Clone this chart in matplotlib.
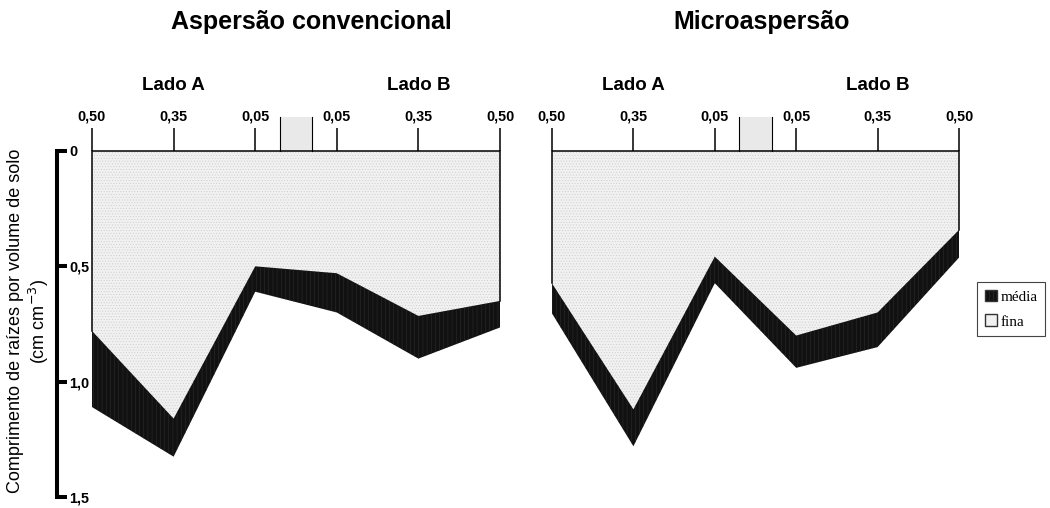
import matplotlib
matplotlib.use("Agg")
import matplotlib.pyplot as plt
from matplotlib.patches import Patch, Rectangle
import numpy as np

plt.rcParams['font.family'] = ['Liberation Sans', 'DejaVu Sans']
plt.rcParams['hatch.linewidth'] = 0.4

# distance from the emitter (m), Lado A -> Lado B
dist_labels = ['0,50', '0,35', '0,05', '0,05', '0,35', '0,50']
side_labels = ['Lado A', 'Lado B']

# root length per soil volume (cm cm-3)
fina_conv = [0.78, 1.16, 0.50, 0.53, 0.715, 0.65]
media_conv = [0.33, 0.165, 0.11, 0.17, 0.185, 0.115]
fina_micro = [0.574, 1.12, 0.458, 0.80, 0.70, 0.342]
media_micro = [0.13, 0.16, 0.115, 0.14, 0.15, 0.12]

titles = ['Aspersão convencional', 'Microaspersão']
yticks = [0, 0.5, 1.0, 1.5]
ytick_labels = ['0', '0,5', '1,0', '1,5']

W, H = 1050, 508
fig = plt.figure(figsize=(W / 100, H / 100), dpi=100)

def fx(px):
    return px / W

def fy(px):
    return 1 - px / H

ax_bottom = fy(497)
ax_height = (497 - 151) / H

def draw_panel(left_px, right_px, fina, media, title, title_x):
    ax = fig.add_axes([fx(left_px), ax_bottom, fx(right_px - left_px), ax_height])
    x = np.arange(len(fina))
    fina = np.array(fina)
    total = fina + np.array(media)
    ax.fill_between(x, 0, fina, facecolor='#f1f1f1', edgecolor='#cdcdcd',
                    hatch='......', linewidth=0)
    ax.fill_between(x, fina, total, facecolor='#111111', edgecolor='#2c2c2c',
                    hatch='||||', linewidth=0)
    # outline of the soil profile
    ax.plot([0, 0, x[-1], x[-1]], [fina[0], 0, 0, fina[-1]], color='black',
            lw=1.1, solid_joinstyle='miter', clip_on=False)
    ax.set_xlim(0, x[-1])
    ax.set_ylim(1.5, 0)
    for s in ax.spines.values():
        s.set_visible(False)
    ax.set_yticks([])
    ax.xaxis.set_ticks_position('top')
    ax.set_xticks(x)
    ax.set_xticklabels(dist_labels, fontsize=10.4, fontweight='bold')
    ax.tick_params(axis='x', direction='out', length=16.5, width=1.1, pad=3.5)
    # emitter box between the two sides
    ax.add_patch(Rectangle((2.3, -0.147), 0.4, 0.147, facecolor='#e9e9e9',
                           edgecolor='none', clip_on=False))
    ax.plot([2.3, 2.3], [-0.147, 0], color='black', lw=0.8, clip_on=False)
    ax.plot([2.7, 2.7], [-0.147, 0], color='black', lw=0.8, clip_on=False)
    ax.text(1, -0.286, side_labels[0], ha='center', va='center',
            fontsize=13.5, fontweight='bold')
    ax.text(4, -0.286, side_labels[1], ha='center', va='center',
            fontsize=13.5, fontweight='bold')
    fig.text(fx(title_x), fy(22), title, ha='center', va='center',
             fontsize=18, fontweight='bold')
    return ax

draw_panel(92, 500, fina_conv, media_conv, titles[0], 311)
draw_panel(552, 959, fina_micro, media_micro, titles[1], 762)

# stand-alone depth axis on the left
yax = fig.add_axes([fx(57), ax_bottom, 0.0005, ax_height])
yax.set_ylim(1.5, 0)
yax.set_xticks([])
for name, s in yax.spines.items():
    s.set_visible(name == 'left')
yax.spines['left'].set_linewidth(2.9)
yax.set_yticks(yticks)
yax.set_yticklabels(ytick_labels, fontsize=10.4, fontweight='bold')
yax.tick_params(axis='y', left=True, right=False, labelleft=False,
                labelright=True, direction='in', length=7, width=2.9, pad=8.5)
yax.patch.set_visible(False)

fig.text(fx(29), fy(321), 'Comprimento de raízes por volume de solo\n(cm cm$^{-3}$)',
         rotation=90, ha='center', va='center', multialignment='center',
         fontsize=13, linespacing=1.2)

handles = [Patch(facecolor='#111111', edgecolor='#333333', hatch='||||', label='média'),
           Patch(facecolor='#f1f1f1', edgecolor='#333333', label='fina')]
leg = fig.legend(handles=handles, loc='upper left',
                 bbox_to_anchor=(fx(977), fy(282)), borderaxespad=0,
                 prop={'family': 'Liberation Serif', 'size': 11},
                 handlelength=0.8, handleheight=0.8, handletextpad=0.25,
                 labelspacing=0.7, borderpad=0.5, fancybox=False,
                 frameon=True, framealpha=1)
leg.get_frame().set_edgecolor('#444444')
leg.get_frame().set_linewidth(0.8)

fig.savefig('out.png', dpi=100)
